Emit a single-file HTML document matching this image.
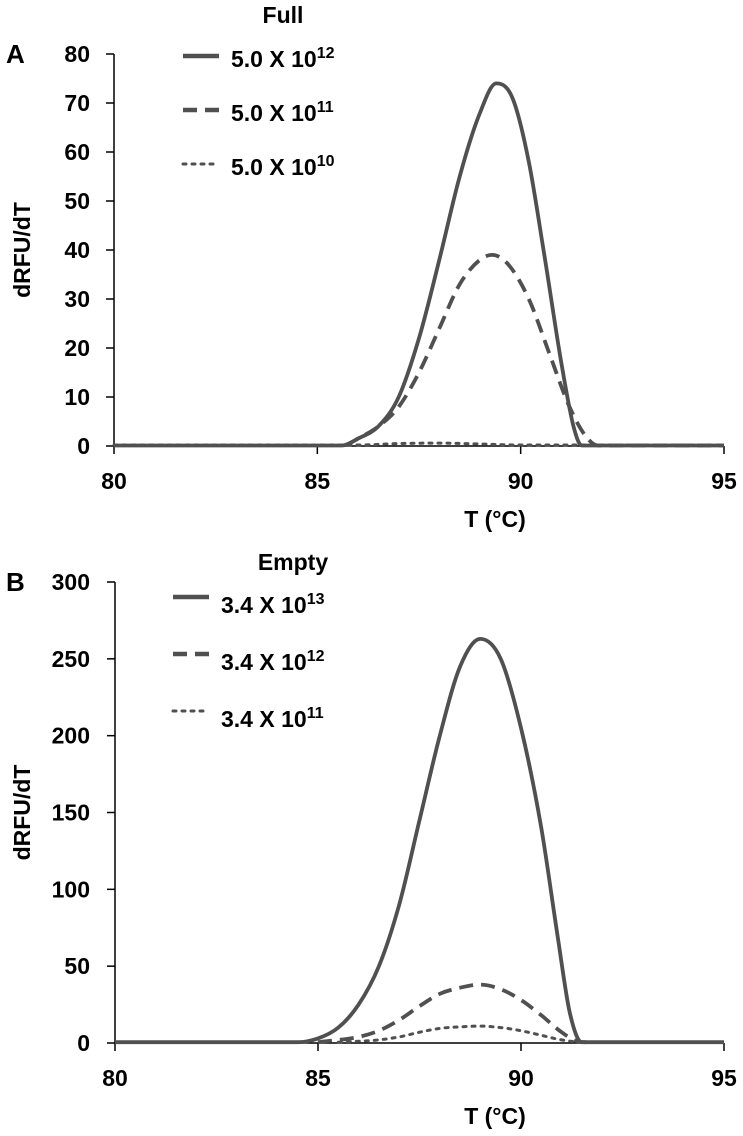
<!DOCTYPE html>
<html><head><meta charset="utf-8"><style>
body{margin:0;background:#fff}
svg{display:block;font-family:"Liberation Sans",Arial,sans-serif;font-weight:bold}
</style></head><body>
<svg id="c" width="743" height="1136" viewBox="0 0 743 1136" xmlns="http://www.w3.org/2000/svg"></svg>
<script>
const xTicks=[80,85,90,95];
const yTicksA=[0,10,20,30,40,50,60,70,80];
const yTicksB=[0,50,100,150,200,250,300];
const labelsA=["5.0 X 10","5.0 X 10","5.0 X 10"];
const expA=["12","11","10"];
const labelsB=["3.4 X 10","3.4 X 10","3.4 X 10"];
const expB=["13","12","11"];
const fullHigh=[[80,0.1],[85.6,0.1],[86,1.5],[86.5,4],[87,10],[87.5,22],[88,38],[88.5,55],[89,68],[89.4,74],[89.8,71],[90.2,58],[90.6,38],[91,17],[91.3,4],[91.5,0.1],[95,0.1]];
const fullMid=[[85.7,0.1],[86,1.5],[86.5,4],[87,8],[87.5,15],[88,24],[88.5,33],[89,38],[89.3,39],[89.7,37],[90.2,30],[90.7,19],[91.2,8],[91.6,2],[91.9,0.1],[95,0.1]];
const fullLow=[[80,0.2],[86,0.2],[87,0.5],[88,0.6],[89,0.4],[90,0.2],[95,0.2]];
const emptyHigh=[[80,0.5],[84.5,0.5],[85,3],[85.5,10],[86,25],[86.5,50],[87,90],[87.5,145],[88,200],[88.5,245],[89,263],[89.5,250],[90,205],[90.5,140],[90.9,70],[91.2,20],[91.5,0.5],[95,0.5]];
const emptyMid=[[85,0.5],[86,4],[86.5,8],[87,15],[87.5,24],[88,32],[88.5,36],[89,38],[89.5,35],[90,28],[90.5,18],[91,7],[91.4,1],[91.6,0.5]];
const emptyLow=[[85.5,0.5],[86.5,2],[87,4],[87.5,7],[88,9.5],[88.5,10.5],[89,11],[89.5,10],[90,8],[90.5,5],[91,2],[91.4,0.5]];
const NS="http://www.w3.org/2000/svg";
const svg=document.getElementById('c');
const C="#505050";
function el(t,a,txt){const e=document.createElementNS(NS,t);for(const k in a)e.setAttribute(k,a[k]);if(txt!==undefined)e.textContent=txt;svg.appendChild(e);return e;}
function path(pts,sx,sy){
  const P=pts.map(p=>[sx(p[0]),sy(p[1])]);const n=P.length;
  const d=[],m=new Array(n).fill(0);
  for(let i=0;i<n-1;i++)d.push((P[i+1][1]-P[i][1])/(P[i+1][0]-P[i][0]));
  m[0]=d[0];m[n-1]=d[n-2];
  for(let i=1;i<n-1;i++)m[i]=(d[i-1]*d[i]<=0)?0:(d[i-1]+d[i])/2;
  for(let i=0;i<n-1;i++){if(d[i]===0){m[i]=0;m[i+1]=0;continue;}const a=m[i]/d[i],b=m[i+1]/d[i],s=a*a+b*b;if(s>9){const t=3/Math.sqrt(s);m[i]=t*a*d[i];m[i+1]=t*b*d[i];}}
  let s="M"+P[0][0].toFixed(1)+","+P[0][1].toFixed(1);
  for(let i=0;i<n-1;i++){const h=(P[i+1][0]-P[i][0])/3;
    s+="C"+(P[i][0]+h).toFixed(1)+","+(P[i][1]+m[i]*h).toFixed(1)+" "+(P[i+1][0]-h).toFixed(1)+","+(P[i+1][1]-m[i+1]*h).toFixed(1)+" "+P[i+1][0].toFixed(1)+","+P[i+1][1].toFixed(1);}
  return s;
}
const dashes=["none","14,8","3,6"];
function panel(o){
  const sx=v=>o.x0+(v-80)/15*(o.x1-o.x0);
  const sy=v=>o.y0-(v/o.ymax)*(o.y0-o.yTop);
  let e;
  e=el('line',{x1:sx(80),y1:o.yTop,x2:sx(80),y2:o.y0,stroke:'#000','stroke-width':1.5});
  
  e=el('line',{x1:sx(80),y1:o.y0,x2:sx(95),y2:o.y0,stroke:'#000','stroke-width':1.5});
  
  o.yt.forEach(v=>{
    el('line',{x1:sx(80)-8,y1:sy(v),x2:sx(80),y2:sy(v),stroke:'#000','stroke-width':1.5});
    e=el('text',{x:90,y:sy(v)+8,'text-anchor':'end','font-size':23},String(v));
    
  });
  xTicks.forEach(v=>{
    el('line',{x1:sx(v),y1:o.y0,x2:sx(v),y2:o.y0+8,stroke:'#000','stroke-width':1.5});
    e=el('text',{x:sx(v),y:o.y0+43,'text-anchor':'middle','font-size':23},String(v));
    
  });
  e=el('text',{x:495,y:o.y0+81,'text-anchor':'middle','font-size':23},'T (°C)');
  
  const cy=(o.yTop+o.y0)/2;
  e=el('text',{x:30,y:cy,'text-anchor':'middle','font-size':23,transform:'rotate(-90 30 '+cy+')'},'dRFU/dT');
  
  e=el('text',{x:6,y:o.yTop+9,'font-size':26},o.letter);
  
  o.series.forEach((s,i)=>{
    e=el('path',{d:path(s,sx,sy),fill:'none',stroke:C,'stroke-width':i==2?3:3.8,'stroke-dasharray':dashes[i],'stroke-linecap':i==2?'round':'butt','stroke-linejoin':'round'});
    
  });
  e=el('text',{x:o.legX+(o.letter=='A'?100:120),y:o.titleY,'text-anchor':'middle','font-size':23},o.title);
  
  o.labels.forEach((l,i)=>{
    const y=o.legY+i*o.legDy;
    e=el('line',{x1:o.legX,y1:y,x2:o.legX+36,y2:y,stroke:C,'stroke-width':i==2?3:4.5,'stroke-dasharray':dashes[i],'stroke-linecap':i==2?'round':'butt'});
    
    const t=el('text',{x:o.legX+48,y:y+o.txtOff,'font-size':23},l);
    const ts=document.createElementNS(NS,'tspan');ts.setAttribute('dy','-9');ts.setAttribute('font-size','16');ts.textContent=o.exps[i];t.appendChild(ts);
    
  });
}
panel({id:'panel-a',letter:'A',x0:114,x1:724,y0:446,yTop:54,ymax:80,yt:yTicksA,series:[fullHigh,fullMid,fullLow],title:'Full',titleY:23,legX:183,legY:56,legDy:54,txtOff:11,labels:labelsA,exps:expA});
panel({id:'panel-b',letter:'B',x0:115,x1:724,y0:1043,yTop:582,ymax:300,yt:yTicksB,series:[emptyHigh,emptyMid,emptyLow],title:'Empty',titleY:570,legX:173,legY:597,legDy:57,txtOff:16,labels:labelsB,exps:expB});
</script>
</body></html>
